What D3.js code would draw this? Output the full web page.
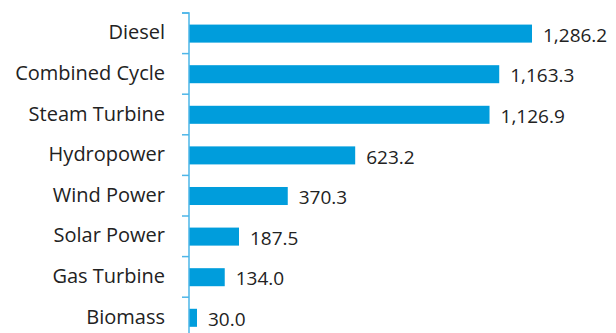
<!DOCTYPE html>
<html>
<head>
<meta charset="utf-8">
<script src="https://cdn.jsdelivr.net/npm/d3@7"></script>
<style>
  html, body { margin: 0; padding: 0; background: #fff; }
  svg text { font-family: "Open Sans", sans-serif; fill: #222; }
</style>
</head>
<body>
<svg id="chart" width="616" height="333"></svg>
<script>
// Installed capacity by generation technology
const categories = ["Diesel", "Combined Cycle", "Steam Turbine", "Hydropower",
                    "Wind Power", "Solar Power", "Gas Turbine", "Biomass"];
const values = [1286.2, 1163.3, 1126.9, 623.2, 370.3, 187.5, 134.0, 30.0];

const svg = d3.select("#chart");
const axisX = 189;
const plotTop = 13, step = 40.6;

const y = d3.scaleBand()
  .domain(categories)
  .range([plotTop, plotTop + step * categories.length])
  .paddingInner(0.556)
  .paddingOuter(0.278);

const x = d3.scaleLinear()
  .domain([0, 1286.2])
  .range([axisX, 532]);

// bars
svg.append("g").selectAll("rect")
  .data(values)
  .join("rect")
  .attr("x", x(0))
  .attr("y", (d, i) => y(categories[i]) + 0.3)
  .attr("width", d => x(d) - x(0))
  .attr("height", y.bandwidth())
  .attr("fill", "#009ddc");

// category axis
const axis = d3.axisLeft(y).tickSize(7).tickPadding(17);
const gAxis = svg.append("g")
  .attr("transform", `translate(${axisX},0)`)
  .call(axis);
gAxis.select(".domain").attr("stroke", "#4db6e8").attr("stroke-width", 1.5)
  .attr("d", `M-7,${plotTop}H0V333`);
gAxis.selectAll(".tick line").attr("stroke", "#4db6e8").attr("stroke-width", 1.5)
  .attr("transform", `translate(0,${-y.bandwidth() / 2 - y.step() * y.paddingInner() / 2})`);
gAxis.selectAll(".tick text")
  .attr("font-size", 20)
  .attr("dy", "0.3em")
  .attr("font-family", "'Open Sans', sans-serif")
  .attr("fill", "#222");

// value labels
const fmt = d3.format(",.1f");
svg.append("g").selectAll("text")
  .data(values)
  .join("text")
  .attr("x", d => x(d) + 11)
  .attr("y", (d, i) => y(categories[i]) + y.bandwidth() / 2 + 8.5)
  .attr("font-size", 19)
  .text(d => fmt(d));
</script>
</body>
</html>
